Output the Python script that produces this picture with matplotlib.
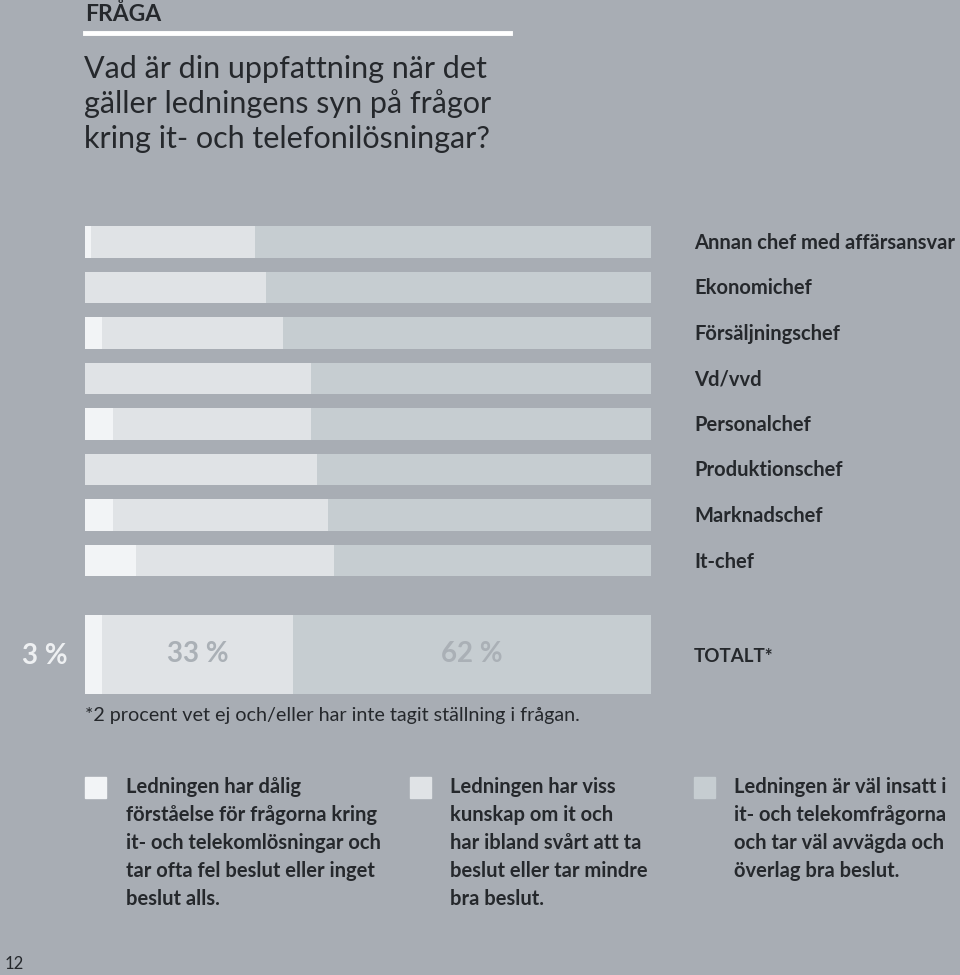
import matplotlib
matplotlib.use("Agg")
import matplotlib.pyplot as plt
from matplotlib.patches import Rectangle

# categories, top to bottom
categories = ["Annan chef med affärsansvar", "Ekonomichef", "Försäljningschef",
              "Vd/vvd", "Personalchef", "Produktionschef", "Marknadschef", "It-chef"]
# per category: dålig förståelse / viss kunskap / väl insatt (%)
poor = [1, 0, 3, 0, 5, 0, 5, 9]
some = [29, 32, 32, 40, 35, 41, 38, 35]
good = [70, 68, 65, 60, 60, 59, 57, 56]

total_label = "TOTALT*"
total_values = [3, 33, 62]

legend_texts = [
    "Ledningen har dålig\nförståelse för frågorna kring\nit- och telekomlösningar och\ntar ofta fel beslut eller inget\nbeslut alls.",
    "Ledningen har viss\nkunskap om it och\nhar ibland svårt att ta\nbeslut eller tar mindre\nbra beslut.",
    "Ledningen är väl insatt i\nit- och telekomfrågorna\noch tar väl avvägda och\növerlag bra beslut.",
]

BG = "#a8adb4"
COLORS = ["#f2f4f6", "#e0e3e6", "#c6cdd1"]
DARK = "#25282c"
FONT = "Lato"

W, H = 960, 975
fig = plt.figure(figsize=(W / 100, H / 100), dpi=100, facecolor=BG)


def fx(px):
    return px / W


def fy(py):
    return 1 - py / H


# header
fig.text(fx(85), fy(14), "FRÅGA", fontsize=16.5, fontweight="bold", color=DARK,
         family=FONT, va="center")
fig.add_artist(plt.Line2D([fx(85), fx(510)], [fy(33), fy(33)], color="white", lw=3.5))
question = ["Vad är din uppfattning när det", "gäller ledningens syn på frågor",
            "kring it- och telefonilösningar?"]
for i, line in enumerate(question):
    fig.text(fx(84), fy(69 + 35 * i), line, fontsize=22, fontweight="normal",
             color=DARK, family=FONT, va="center")

# bar axes: row spacing 45.5 px, first row centre at y=242 px
row_px = 45.5
top_px = 242 - 0.5 * row_px
ylim_bottom = 10.0
ax_h = (ylim_bottom + 0.5) * row_px
ax = fig.add_axes([fx(85), fy(top_px + ax_h), fx(651) - fx(85), ax_h / H])
ax.set_facecolor("none")
ax.set_xlim(0, 100)
ax.set_ylim(ylim_bottom, -0.5)
ax.axis("off")

ypos = list(range(len(categories)))
total_y = (654 - 242) / row_px


def draw_row(y, vals, height):
    s = sum(vals)
    left = 0
    for v, c in zip(vals, COLORS):
        w = v / s * 100
        if w > 0:
            ax.barh(y, w, left=left, height=height, color=c, linewidth=0)
        left += w


for y, a, b, c in zip(ypos, poor, some, good):
    draw_row(y, [a, b, c], 0.70)

draw_row(total_y, total_values, 79 / row_px)

for y, name in zip(ypos, categories):
    fig.text(fx(694), fy(243 + row_px * y), name, fontsize=14.5, fontweight="bold",
             color=DARK, family=FONT, va="center")
fig.text(fx(694), fy(657), total_label, fontsize=13.5, fontweight="bold",
         color=DARK, family=FONT, va="center")

# total percentages
s = sum(total_values)
fig.text(fx(45), fy(656), f"{total_values[0]} %", fontsize=20, fontweight="bold",
         color="#eef0f2", family=FONT, ha="center", va="center")
cum = total_values[0] / s * 100
for v in total_values[1:]:
    w = v / s * 100
    ax.text(cum + w / 2, total_y, f"{v} %", fontsize=20, fontweight="bold",
            color="#aab0b6", family=FONT, ha="center", va="center")
    cum += w

fig.text(fx(85), fy(715), "*2 procent vet ej och/eller har inte tagit ställning i frågan.",
         fontsize=14.2, color=DARK, family=FONT, va="center")

# legend
for x_sq, x_txt, txt, col in zip([85, 410, 694], [126, 450, 734], legend_texts, COLORS):
    fig.add_artist(Rectangle((fx(x_sq), fy(798)), fx(21), 21 / H, color=col,
                             transform=fig.transFigure))
    fig.text(fx(x_txt), fy(777), txt, fontsize=14.5, fontweight="bold", color=DARK,
             family=FONT, va="top", linespacing=1.5)

fig.text(fx(5), fy(964), "12", fontsize=12, color=DARK, family=FONT, va="center")

fig.savefig("out.png", dpi=100, facecolor=BG)
